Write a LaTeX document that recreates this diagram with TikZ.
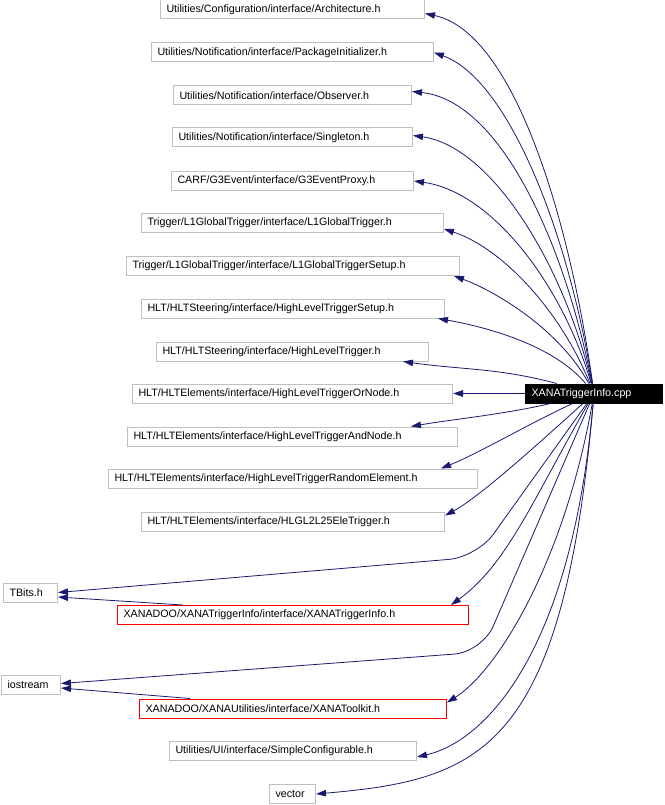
\documentclass[tikz,border=0pt]{standalone}
\usepackage{fontspec}
\setmainfont{Liberation Sans}
\usetikzlibrary{arrows.meta}
\definecolor{edgeblue}{RGB}{25,25,112}
\definecolor{boxgray}{RGB}{191,191,191}

\begin{document}
\begin{tikzpicture}[x=1pt, y=1pt,
  file/.style={draw=boxgray, line width=1pt, anchor=west, minimum height=19pt,
    inner xsep=6pt, inner ysep=0pt, align=left, font=\fontsize{10.7}{12}\selectfont},
  local/.style={file, draw=red},
  dep/.style={draw=edgeblue, line width=0.8pt,
    -{Stealth[length=10pt, width=6.5pt, inset=0pt]}}]
  \useasboundingbox (0,0) rectangle (664,-805);
  \node[file, text width=252pt] (arch) at (160,-9.5) {Utilities/Configuration/interface/Architecture.h};
  \node[file, text width=270pt] (pkg) at (151,-52.5) {Utilities/Notification/interface/PackageInitializer.h};
  \node[file, text width=226pt] (obs) at (173,-95.5) {Utilities/Notification/interface/Observer.h};
  \node[file, text width=228pt] (sing) at (172,-137.5) {Utilities/Notification/interface/Singleton.h};
  \node[file, text width=230pt] (proxy) at (171,-181) {CARF/G3Event/interface/G3EventProxy.h};
  \node[file, text width=290pt] (lone) at (141,-223) {Trigger/L1GlobalTrigger/interface/L1GlobalTrigger.h};
  \node[file, text width=321pt] (lonesetup) at (126,-266) {Trigger/L1GlobalTrigger/interface/L1GlobalTriggerSetup.h};
  \node[file, text width=291pt] (hltsetup) at (141,-308.5) {HLT/HLTSteering/interface/HighLevelTriggerSetup.h};
  \node[file, text width=260pt] (hlt) at (156,-351.5) {HLT/HLTSteering/interface/HighLevelTrigger.h};
  \node[file, text width=308pt] (ornode) at (132,-393.5) {HLT/HLTElements/interface/HighLevelTriggerOrNode.h};
  \node[file, text width=318pt] (andnode) at (127,-436.5) {HLT/HLTElements/interface/HighLevelTriggerAndNode.h};
  \node[file, text width=357pt] (random) at (108,-478.5) {HLT/HLTElements/interface/HighLevelTriggerRandomElement.h};
  \node[file, text width=291pt] (hlgl) at (141,-521.5) {HLT/HLTElements/interface/HLGL2L25EleTrigger.h};
  \node[file, text width=42pt] (tbits) at (3,-592.5) {TBits.h};
  \node[local, text width=339pt] (trighdr) at (117,-615) {XANADOO/XANATriggerInfo/interface/XANATriggerInfo.h};
  \node[file, text width=47pt] (iostream) at (1,-684.5) {iostream};
  \node[local, text width=295pt] (toolkit) at (139,-708.5) {XANADOO/XANAUtilities/interface/XANAToolkit.h};
  \node[file, text width=235pt] (simplecfg) at (169,-751) {Utilities/UI/interface/SimpleConfigurable.h};
  \node[file, text width=34pt] (vector) at (269,-794) {vector};
  \node[file, draw=black, fill=black, text=white, text width=125pt] (main) at (525,-393.5) {XANATriggerInfo.cpp};

  \path[every edge/.style={dep}]
  (main) edge[out=98, in=-12, out distance=170pt, in distance=90pt] ([yshift=-4pt]arch.east)
  edge[out=99, in=-20, out distance=150pt, in distance=80pt] (pkg.east)
  edge[out=101, in=-6, out distance=140pt, in distance=90pt] ([yshift=4pt]obs.east)
  edge[out=103, in=-8, out distance=120pt, in distance=80pt] ([yshift=2pt]sing.east)
  edge[out=106, in=-8, out distance=100pt, in distance=80pt] (proxy.east)
  edge[out=112, in=-18, out distance=80pt, in distance=60pt] ([yshift=-6pt]lone.east)
  edge[out=118, in=-20, out distance=60pt, in distance=45pt] ([xshift=-6pt]lonesetup.south east)
  edge[out=130, in=-10, out distance=50pt, in distance=50pt] ([xshift=-7pt]hltsetup.south east)
  edge[out=165, in=-8, out distance=60pt, in distance=60pt] ([xshift=-26pt]hlt.south east)
  edge (ornode.east)
  edge[out=193, in=10, out distance=50pt, in distance=40pt] ([xshift=-47pt]andnode.north east)
  edge[out=205, in=22, out distance=50pt, in distance=40pt] ([xshift=-37pt]random.north east)
  edge[out=222, in=28, out distance=50pt, in distance=40pt] ([yshift=6pt]hlgl.east)
  edge[out=240, in=36, out distance=110pt, in distance=70pt] ([xshift=-18pt]trighdr.north east)
  edge[out=260, in=32, out distance=160pt, in distance=60pt] ([yshift=6pt]toolkit.east)
  edge[out=265, in=13, out distance=250pt, in distance=70pt] ([yshift=-6pt]simplecfg.east)
  edge[out=265, in=5, out distance=350pt, in distance=165pt] (vector.east);
  \draw[dep, rounded corners=28pt] (main) -- (477,-557) -- (tbits.east);
  \draw[dep, rounded corners=28pt] (main) -- (482,-652) -- ([yshift=1pt]iostream.east);
  \path[every edge/.style={dep}]
  ([xshift=66pt]trighdr.north west) edge ([yshift=-4.5pt]tbits.east)
  ([xshift=51pt]toolkit.north west) edge ([yshift=-3.5pt]iostream.east);
\end{tikzpicture}
\end{document}
